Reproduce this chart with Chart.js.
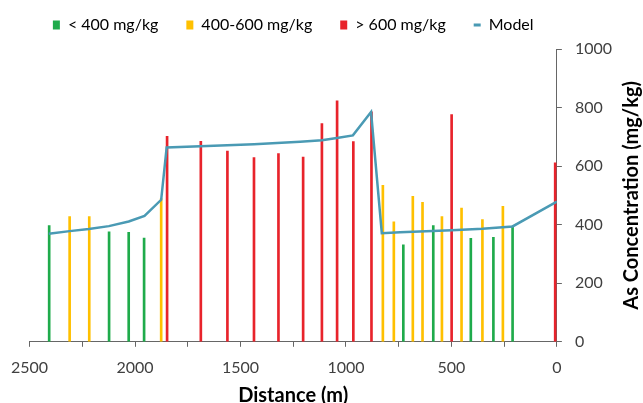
<!DOCTYPE html>
<html>
<head>
<meta charset="utf-8">
<script src="https://cdn.jsdelivr.net/npm/chart.js@4"></script>
<style>
  body { margin: 0; background: #fff; }
</style>
</head>
<body>
<canvas id="chart" width="643" height="403"></canvas>
<script>
// sample points, distance (m) and As concentration (mg/kg)
const lowX = [2407, 2123, 2030, 1957, 728, 586, 408, 301, 210];
const lowY = [397, 376, 374, 354, 331, 397, 353, 357, 395];

const midX = [2310, 2217, 1876, 825, 773, 683, 637, 545, 452, 353, 256];
const midY = [428, 428, 489, 534, 410, 497, 476, 428, 457, 417, 463];

const highX = [1848, 1688, 1562, 1436, 1320, 1203, 1114, 1042, 965, 879, 499, 8];
const highY = [702, 685, 651, 629, 643, 631, 745, 823, 684, 785, 776, 611];

const modelX = [2409, 2310, 2219, 2124, 2030, 1955, 1876, 1850, 1690, 1436, 1217, 1114, 1043, 967, 881, 830, 743, 499, 353, 210, 0];
const modelY = [369, 378, 385, 395, 411, 430, 485, 664, 668, 675, 683, 688, 696, 705, 785, 371, 374, 381, 386, 394, 479];

const labels = ['< 400 mg/kg', '400-600 mg/kg', '> 600 mg/kg', 'Model'];
const xTicks = [0, 500, 1000, 1500, 2000, 2500];

const GREEN = '#1fab4b';
const YELLOW = '#ffc000';
const RED = '#e8232b';
const TEAL = '#4a9ab4';

const toPoints = (xs, ys) => xs.map((x, i) => ({ x: x, y: ys[i] }));

function barSet(label, xs, ys, color) {
  return {
    type: 'bar',
    label: label,
    data: toPoints(xs, ys),
    backgroundColor: color,
    borderWidth: 0,
    barThickness: 2,
    grouped: false,
    order: 1
  };
}

// keep the legend on one row and a bit higher than Chart.js wants it
const legendFit = {
  id: 'legendFit',
  beforeInit(chart) {
    const legend = chart.legend;
    const fit = legend.fit;
    legend.fit = function () {
      const mw = this.maxWidth;
      this.maxWidth = 2000;
      fit.call(this);
      this.maxWidth = mw;
      this.width = mw;
      this.height += 6;
    };
    const draw = legend.draw;
    legend.draw = function () {
      this.left -= 40;
      this.right += 40;
      draw.call(this);
      this.left += 40;
      this.right -= 40;
    };
  }
};

// y title reads bottom-to-top on the right side
const yTitle = {
  id: 'yTitle',
  afterDraw(chart) {
    const { ctx, chartArea } = chart;
    ctx.save();
    ctx.translate(chart.width - 11, (chartArea.top + chartArea.bottom) / 2);
    ctx.rotate(-Math.PI / 2);
    ctx.font = 'bold 20px Lato';
    ctx.fillStyle = '#000';
    ctx.textAlign = 'center';
    ctx.textBaseline = 'middle';
    ctx.fillText('As Concentration (mg/kg)', 0, 0);
    ctx.restore();
  }
};

Chart.defaults.font.family = 'Lato';
Chart.defaults.color = '#404040';

new Chart(document.getElementById('chart'), {
  type: 'bar',
  data: {
    datasets: [
      barSet(labels[0], lowX, lowY, GREEN),
      barSet(labels[1], midX, midY, YELLOW),
      barSet(labels[2], highX, highY, RED),
      {
        type: 'line',
        label: labels[3],
        data: toPoints(modelX, modelY),
        borderColor: TEAL,
        backgroundColor: TEAL,
        borderWidth: 2.5,
        pointRadius: 0,
        tension: 0,
        order: 0
      }
    ]
  },
  options: {
    responsive: false,
    animation: false,
    events: [],
    layout: { padding: { top: -11, left: 29, right: 18, bottom: -5 } },
    plugins: {
      tooltip: { enabled: false },
      legend: {
        position: 'top',
        fullSize: false,
        labels: {
          usePointStyle: true,
          pointStyleWidth: 7,
          boxHeight: 9,
          padding: 28,
          color: '#000',
          font: { size: 16 },
          sort: (a, b) => a.datasetIndex - b.datasetIndex,
          generateLabels(chart) {
            const items = Chart.defaults.plugins.legend.labels.generateLabels(chart);
            items.forEach(it => {
              if (it.datasetIndex === 3) {
                it.pointStyle = 'line';
                it.lineWidth = 3;
                it.strokeStyle = TEAL;
              } else {
                it.pointStyle = 'rect';
                it.lineWidth = 0;
              }
            });
            return items;
          }
        }
      }
    },
    scales: {
      x: {
        type: 'linear',
        reverse: true,
        min: 0,
        max: 2500,
        offset: false,
        grid: { offset: false, drawOnChartArea: false, tickLength: 5, color: '#666' },
        border: { color: '#666', width: 1 },
        ticks: {
          stepSize: 250,
          autoSkip: false,
          maxRotation: 0,
          padding: 11,
          font: { size: 16 },
          callback: v => xTicks.includes(v) ? String(v) : ''
        },
        title: {
          display: true,
          text: 'Distance (m)',
          color: '#000',
          font: { size: 20, weight: 'bold' },
          padding: { top: -4, bottom: 0 }
        }
      },
      y: {
        position: 'right',
        min: 0,
        max: 1000,
        grid: { drawOnChartArea: false, tickLength: 5, color: '#666' },
        border: { color: '#666', width: 1 },
        ticks: { stepSize: 200, padding: 13, font: { size: 16 }, callback: v => String(v) }
      }
    }
  },
  plugins: [legendFit, yTitle]
});
</script>
</body>
</html>
